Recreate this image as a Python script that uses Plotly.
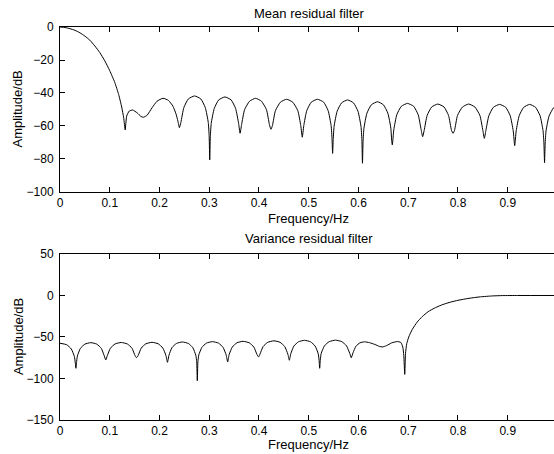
import plotly.graph_objects as go

# ---- data ----
mean_freq = [
    0.000, 0.010, 0.020, 0.030, 0.040, 0.050, 0.060, 0.070, 0.080, 0.090,
    0.100, 0.110, 0.118, 0.124, 0.128, 0.131,
    0.134, 0.139, 0.146, 0.155, 0.163, 0.168, 0.175, 0.185, 0.195, 0.207,
    0.218, 0.227, 0.233, 0.237, 0.240,
    0.243, 0.249, 0.258, 0.2705, 0.283, 0.292, 0.298, 0.2998, 0.301,
    0.3022, 0.304, 0.310, 0.319, 0.3315, 0.344, 0.353, 0.359, 0.362,
    0.365, 0.371, 0.381, 0.393, 0.405, 0.415, 0.421, 0.424,
    0.427, 0.433, 0.443, 0.4555, 0.468, 0.478, 0.484, 0.487,
    0.490, 0.496, 0.505, 0.5175, 0.530, 0.539, 0.545, 0.5468, 0.548,
    0.5492, 0.551, 0.557, 0.566, 0.578, 0.590, 0.599, 0.605, 0.6068, 0.608,
    0.6092, 0.611, 0.617, 0.626, 0.638, 0.650, 0.659, 0.665, 0.6668, 0.668,
    0.671, 0.677, 0.686, 0.6985, 0.711, 0.720, 0.726, 0.729,
    0.732, 0.738, 0.747, 0.7595, 0.772, 0.781, 0.787, 0.790,
    0.793, 0.799, 0.809, 0.8215, 0.834, 0.844, 0.850, 0.853,
    0.856, 0.862, 0.871, 0.8835, 0.896, 0.905, 0.911, 0.914,
    0.917, 0.923, 0.932, 0.944, 0.956, 0.965, 0.971, 0.9728, 0.974,
    0.9752, 0.977, 0.983, 0.992, 1.000,
]
mean_db = [
    0.0, -0.3, -1.0, -2.0, -3.5, -5.5, -8.0, -11.5, -15.5, -20.5,
    -26.5, -33.5, -41.0, -48.5, -55.0, -62.4,
    -54.0, -51.0, -50.3, -52.0, -54.3, -54.7, -53.5, -49.0, -45.0, -43.2,
    -44.5, -48.0, -52.5, -57.0, -61.0,
    -57.8, -48.8, -43.6, -41.8, -43.6, -48.8, -57.8, -66.0, -80.5,
    -66.4, -58.4, -49.4, -44.2, -42.4, -44.2, -49.4, -58.4, -64.4,
    -59.2, -50.1, -45.0, -43.2, -45.0, -50.1, -59.2, -62.0,
    -59.8, -50.7, -45.6, -43.8, -45.6, -50.7, -59.8, -66.8,
    -59.8, -50.7, -45.6, -43.8, -45.6, -50.7, -59.8, -67.8, -76.6,
    -68.2, -60.2, -51.1, -46.0, -44.2, -46.0, -51.1, -60.2, -68.2, -82.6,
    -69.3, -61.3, -52.2, -47.1, -45.3, -47.1, -52.2, -61.3, -69.3, -71.5,
    -62.3, -53.2, -48.1, -46.3, -48.1, -53.2, -62.3, -66.5,
    -62.7, -53.6, -48.5, -46.7, -48.5, -53.6, -62.7, -64.4,
    -62.7, -53.6, -48.5, -46.7, -48.5, -53.6, -62.7, -67.5,
    -62.9, -53.8, -48.7, -46.9, -48.7, -53.8, -62.9, -71.9,
    -62.9, -53.8, -48.7, -46.9, -48.7, -53.8, -62.9, -70.9, -82.2,
    -71.0, -63.0, -54.0, -49.0, -47.5,
]

var_freq = [
    0.000, 0.0134, 0.0227, 0.0289, 0.0308, 0.032,
    0.0332, 0.035, 0.041, 0.050, 0.062, 0.074, 0.083, 0.089, 0.092,
    0.095, 0.1013, 0.1106, 0.123, 0.1354, 0.1447, 0.151, 0.154,
    0.157, 0.1633, 0.1726, 0.185, 0.1974, 0.2067, 0.213, 0.216,
    0.219, 0.225, 0.234, 0.246, 0.258, 0.267, 0.273, 0.2748, 0.276,
    0.2772, 0.279, 0.2852, 0.2943, 0.3065, 0.3187, 0.3278, 0.334, 0.337,
    0.340, 0.3463, 0.3556, 0.368, 0.3804, 0.3897, 0.396, 0.399,
    0.402, 0.4083, 0.4176, 0.430, 0.4424, 0.4517, 0.458, 0.461,
    0.464, 0.4702, 0.4793, 0.4915, 0.5037, 0.5128, 0.519, 0.5208, 0.522,
    0.5232, 0.525, 0.5315, 0.5411, 0.5538, 0.5665, 0.576, 0.5825, 0.5855,
    0.589, 0.595, 0.603, 0.612, 0.622, 0.633, 0.642, 0.648, 0.656, 0.667,
    0.678, 0.685, 0.689, 0.691, 0.693,
    0.6945, 0.697, 0.701, 0.708, 0.718, 0.728, 0.740, 0.755, 0.770, 0.785,
    0.800, 0.822, 0.845, 0.870, 0.890, 0.920, 1.000,
]
var_db = [
    -57.5, -59.3, -64.4, -73.5, -81.5, -87.7,
    -80.8, -72.8, -63.7, -58.6, -56.8, -58.6, -63.7, -72.8, -77.7,
    -72.6, -63.5, -58.4, -56.6, -58.4, -63.5, -72.6, -74.9,
    -72.4, -63.3, -58.2, -56.4, -58.2, -63.3, -72.4, -80.5,
    -72.0, -62.9, -57.8, -56.0, -57.8, -62.9, -72.0, -80.0, -102.6,
    -79.6, -71.6, -62.5, -57.4, -55.6, -57.4, -62.5, -71.6, -80.0,
    -71.2, -62.1, -57.0, -55.2, -57.0, -62.1, -71.2, -74.0,
    -70.6, -61.5, -56.4, -54.6, -56.4, -61.5, -70.6, -78.0,
    -70.0, -60.9, -55.8, -54.0, -55.8, -60.9, -70.0, -78.0, -87.7,
    -77.8, -69.8, -60.7, -55.6, -53.8, -55.6, -60.7, -69.8, -75.0,
    -69.0, -61.0, -57.0, -55.8, -56.8, -59.0, -61.3, -62.0, -60.5, -57.0,
    -55.5, -56.5, -62.0, -72.0, -95.0,
    -70.0, -58.0, -50.0, -41.0, -32.0, -25.5, -19.5, -14.5, -10.8, -8.0,
    -5.8, -3.4, -1.6, -0.5, -0.1, 0.0, 0.0,
]

x_ticks = [0, 0.1, 0.2, 0.3, 0.4, 0.5, 0.6, 0.7, 0.8, 0.9]
x_tick_text = ["0", "0.1", "0.2", "0.3", "0.4", "0.5", "0.6", "0.7", "0.8", "0.9"]
top_y_ticks = [-100, -80, -60, -40, -20, 0]
bottom_y_ticks = [-150, -100, -50, 0, 50]

titles = ["Mean residual filter", "Variance residual filter"]
x_label = "Frequency/Hz"
y_label = "Amplitude/dB"

# ---- figure ----
FONT = "Liberation Sans, Arial, Helvetica, sans-serif"
line_style = dict(color="black", width=1, shape="spline", smoothing=0.5)

fig = go.Figure()
fig.add_trace(go.Scatter(x=mean_freq, y=mean_db, mode="lines", line=line_style,
                         xaxis="x", yaxis="y", showlegend=False, hoverinfo="skip"))
fig.add_trace(go.Scatter(x=var_freq, y=var_db, mode="lines", line=line_style,
                         xaxis="x2", yaxis="y2", showlegend=False, hoverinfo="skip"))

TICK_FONT = dict(family=FONT, size=12, color="black")
XR = [0, 0.993]
common_x = dict(range=XR, tickvals=x_ticks, ticktext=x_tick_text, ticks="inside",
                ticklen=5, tickcolor="black", showline=True, linecolor="black",
                linewidth=1, mirror="ticks", showgrid=False, zeroline=False,
                tickfont=TICK_FONT)
common_y = dict(ticks="inside", ticklen=5, tickcolor="black", showline=True,
                linecolor="black", linewidth=1, mirror=False, showgrid=False,
                zeroline=False, tickfont=TICK_FONT, ticklabelstandoff=3)
right_y = dict(ticks="inside", ticklen=2, tickcolor="black", showline=False,
               showgrid=False, zeroline=False, showticklabels=False, side="right")

top_dom = [0.5802, 1.0]
bot_dom = [0.0, 0.4224]

fig.update_layout(
    width=554, height=454,
    margin=dict(l=60, r=0, t=27, b=34),
    paper_bgcolor="white", plot_bgcolor="white",
    xaxis=dict(domain=[0, 1], anchor="y", **common_x),
    yaxis=dict(domain=top_dom, anchor="x", range=[-100, 0], tickvals=top_y_ticks, **common_y),
    xaxis2=dict(domain=[0, 1], anchor="y2", **common_x),
    yaxis2=dict(domain=bot_dom, anchor="x2", range=[-150, 50], tickvals=bottom_y_ticks, **common_y),
    yaxis3=dict(overlaying="y", anchor="x", range=[-100, 0], tickvals=top_y_ticks, **right_y),
    yaxis4=dict(overlaying="y2", anchor="x2", range=[-150, 50], tickvals=bottom_y_ticks, **right_y),
)

ann_font = dict(family=FONT, size=13, color="black")
annotations = [
    dict(text=titles[0], x=0.504, y=1.0356, xref="paper", yref="paper",
         xanchor="center", yanchor="middle", showarrow=False, font=ann_font),
    dict(text=titles[1], x=0.504, y=0.4606, xref="paper", yref="paper",
         xanchor="center", yanchor="middle", showarrow=False, font=ann_font),
    dict(text=x_label, x=0.504, y=0.512, xref="paper", yref="paper",
         xanchor="center", yanchor="middle", showarrow=False, font=ann_font),
    dict(text=x_label, x=0.504, y=-0.0625, xref="paper", yref="paper",
         xanchor="center", yanchor="middle", showarrow=False, font=ann_font),
    dict(text=y_label, x=-0.085, y=0.790, xref="paper", yref="paper",
         xanchor="center", yanchor="middle", textangle=-90, showarrow=False, font=ann_font),
    dict(text=y_label, x=-0.085, y=0.211, xref="paper", yref="paper",
         xanchor="center", yanchor="middle", textangle=-90, showarrow=False, font=ann_font),
]
fig.update_layout(annotations=annotations)

fig.write_html(
    "out.html",
    config={"displayModeBar": False},
    post_script="document.body.style.margin='0';document.body.style.overflow='hidden';",
)
